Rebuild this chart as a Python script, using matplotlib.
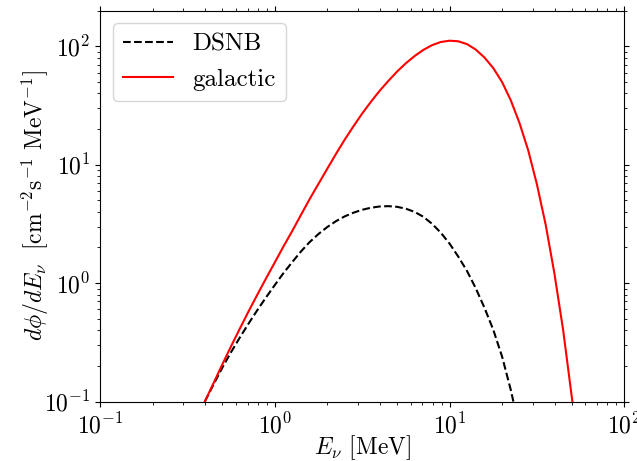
import matplotlib
matplotlib.use('Agg')
import matplotlib.pyplot as plt

plt.rcParams['font.family'] = 'serif'
plt.rcParams['font.serif'] = ['cmr10']
plt.rcParams['mathtext.fontset'] = 'cm'
plt.rcParams['axes.formatter.use_mathtext'] = True
plt.rcParams['axes.unicode_minus'] = True

energy = [0.398, 0.447, 0.501, 0.562, 0.631, 0.708, 0.794, 0.891, 1.0, 1.12,
          1.26, 1.41, 1.58, 1.78, 2.0, 2.24, 2.51, 2.82, 3.16, 3.55, 3.98,
          4.47, 5.01, 5.62, 6.31, 7.08, 7.94, 8.91, 10.0, 11.2, 12.6, 14.1,
          15.8, 17.8, 20.0, 22.4]

# DSNB flux, cm^-2 s^-1 MeV^-1 (last point is where it leaves the axes)
dsnb_E = energy + [23.2]
dsnb_flux = [0.100, 0.140, 0.193, 0.261, 0.347, 0.455, 0.590, 0.757, 0.962, 1.211,
             1.507, 1.845, 2.213, 2.600, 2.979, 3.334, 3.656, 3.931, 4.159, 4.330,
             4.436, 4.465, 4.406, 4.251, 3.995, 3.633, 3.172, 2.666, 2.158, 1.682,
             1.264, 0.911, 0.626, 0.404, 0.239, 0.126, 0.100]

# galactic supernova flux
gal_E = energy + [25.1, 28.2, 31.6, 35.5, 39.8, 44.7, 50.1, 50.5]
gal_flux = [0.100, 0.1436, 0.2056, 0.2924, 0.4121, 0.5768, 0.7962, 1.094, 1.493, 2.032,
            2.761, 3.750, 5.093, 6.902, 9.268, 12.33, 16.22, 21.09, 26.98, 33.96,
            41.98, 51.05, 61.09, 71.78, 82.60, 93.11, 102.1, 108.6, 111.4, 110.2,
            104.2, 93.97, 80.72, 65.46, 49.77, 35.08, 22.65, 13.24, 6.871, 3.119,
            1.216, 0.401, 0.109, 0.100]

fig = plt.figure(figsize=(6.37, 4.61), dpi=100)
ax = fig.add_axes([0.157, 0.129, 0.823, 0.848])

ax.plot(dsnb_E, dsnb_flux, 'k--', lw=1.5, label='DSNB')
ax.plot(gal_E, gal_flux, 'r-', lw=1.5, label='galactic')

ax.set_xscale('log')
ax.set_yscale('log')
ax.set_xlim(0.1, 100)
ax.set_ylim(0.1, 200)

ax.tick_params(which='both', top=True, right=True, labelsize=17)
ax.tick_params(axis='x', which='major', pad=4.5)
ax.set_xlabel(r'$E_\nu$ [MeV]', fontsize=17)
ax.set_ylabel(r'$d\phi/dE_\nu\ \ [\mathrm{cm}^{-2}\mathrm{s}^{-1}\ \mathrm{MeV}^{-1}]$',
              fontsize=17)
ax.xaxis.set_label_coords(0.5, -0.082)
ax.yaxis.set_label_coords(-0.094, 0.5)

ax.legend(loc='upper left', fontsize=18)

fig.savefig('out.png', dpi=100)
